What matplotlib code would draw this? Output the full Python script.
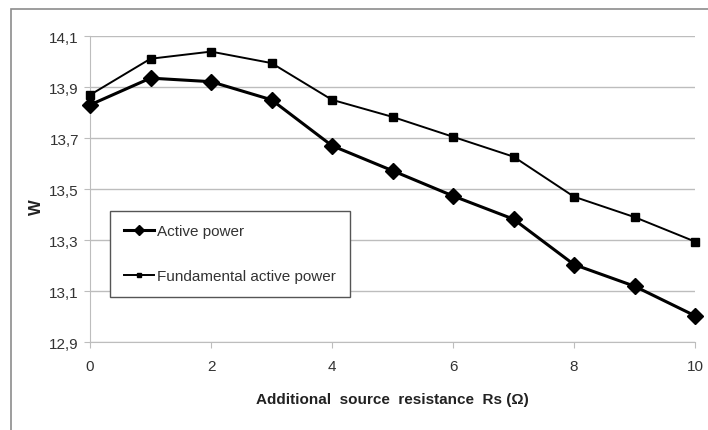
import matplotlib.pyplot as plt
from matplotlib.patches import Rectangle
from matplotlib.ticker import FuncFormatter

plt.rcParams['font.family'] = ['Liberation Sans', 'DejaVu Sans']

rs = [0, 1, 2, 3, 4, 5, 6, 7, 8, 9, 10]
active_power = [13.831, 13.936, 13.922, 13.851, 13.671, 13.573, 13.474, 13.383, 13.205, 13.12, 13.004]
fundamental_power = [13.870, 14.012, 14.040, 13.995, 13.851, 13.784, 13.706, 13.628, 13.471, 13.391, 13.295]
x_ticks = [0, 2, 4, 6, 8, 10]
y_ticks = [12.9, 13.1, 13.3, 13.5, 13.7, 13.9, 14.1]

fig = plt.figure(figsize=(7.08, 4.31), dpi=100)
ax = fig.add_axes([90 / 708, 1 - 343.3 / 431, 605 / 708, 306 / 431])

# outer chart frame (cropped on right and bottom like the original)
fig.add_artist(Rectangle((11 / 708, -0.2), 1.5, 1.2 - 10 / 431, transform=fig.transFigure,
                         fill=False, edgecolor='#8c8c8c', linewidth=1.2))

ax.plot(rs, active_power, color='black', linewidth=2.2, marker='D', markersize=8,
        label='Active power', zorder=3, clip_on=False)
ax.plot(rs, fundamental_power, color='black', linewidth=1.4, marker='s', markersize=6,
        label='Fundamental active power', zorder=3, clip_on=False)

ax.set_xlim(0, 10)
ax.set_ylim(12.9, 14.1)
ax.set_xticks(x_ticks)
ax.set_yticks(y_ticks)
ax.yaxis.set_major_formatter(FuncFormatter(lambda v, p: f'{v:.1f}'.replace('.', ',')))
ax.grid(axis='y', color='#bdbdbd', linewidth=1)
ax.set_axisbelow(True)

for s in ['top', 'right']:
    ax.spines[s].set_visible(False)
for s in ['left', 'bottom']:
    ax.spines[s].set_color('#bdbdbd')
ax.tick_params(axis='both', length=4, color='#bdbdbd', labelsize=11, labelcolor='#333333', pad=4)
ax.tick_params(axis='x', pad=8)

ax.set_xlabel('Additional  source  resistance  Rs (Ω)', fontsize=11, fontweight='bold',
              color='#222222', labelpad=14)
ax.set_ylabel('W', fontsize=12, fontweight='bold', color='#222222')
ax.yaxis.set_label_coords(-0.076, 0.445)

leg = ax.legend(loc='upper left', bbox_to_anchor=(0.033, 0.43), fontsize=11,
                markerscale=0.6, handlelength=2.0, handletextpad=0.2, labelspacing=2.0,
                borderpad=0.9, fancybox=False, framealpha=1, borderaxespad=0)
leg.get_frame().set_edgecolor('#555555')
leg.get_frame().set_linewidth(1)
for t in leg.get_texts():
    t.set_color('#333333')

fig.savefig('out.png', dpi=100)
